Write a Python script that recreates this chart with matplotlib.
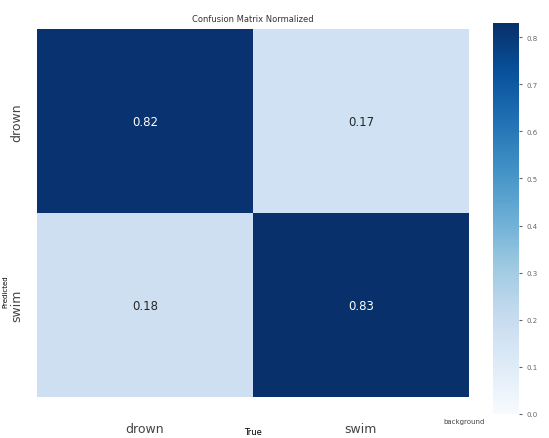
import numpy as np
import matplotlib
matplotlib.use('Agg')
import matplotlib.pyplot as plt
import seaborn as sns

# normalized confusion matrix (rows = predicted, cols = true)
classes = ['drown', 'swim']
cm = np.array([[0.82, 0.17],
               [0.18, 0.83]])
cbar_ticks = [0.0, 0.1, 0.2, 0.3, 0.4, 0.5, 0.6, 0.7, 0.8]

fig = plt.figure(figsize=(5.49, 4.39), dpi=100)
ax = fig.add_axes([0.067, 0.093, 0.787, 0.838])
cax = fig.add_axes([0.898, 0.055, 0.047, 0.89])

sns.heatmap(cm, ax=ax, cbar_ax=cax, cmap='Blues', vmin=0.0, vmax=0.83,
            annot=True, fmt='.2f', annot_kws={'size': 8.5},
            xticklabels=classes, yticklabels=classes, square=False)

ax.set_title('Confusion Matrix Normalized', fontsize=6, color='#333333', pad=6)
ax.set_xlabel('True', fontsize=6, labelpad=0)
ax.xaxis.set_label_coords(0.5, -0.08)
ax.set_ylabel('Predicted', fontsize=5, labelpad=2)
ax.yaxis.set_label_coords(-0.065, 0.29)
ax.tick_params(axis='x', labelsize=9, length=0, pad=18, colors='#444444')
ax.tick_params(axis='y', labelsize=9, length=0, pad=10, colors='#444444')
plt.setp(ax.get_yticklabels(), rotation=90, va='center')
ax.text(1.98, 2.13, 'background', fontsize=5, color='#444444',
        ha='center', va='center', clip_on=False)

cax.set_yticks(cbar_ticks)
cax.tick_params(labelsize=5, length=2, colors='#666666')
cax.yaxis.set_major_formatter(matplotlib.ticker.FormatStrFormatter('%.1f'))

fig.savefig('out.png', dpi=100)
